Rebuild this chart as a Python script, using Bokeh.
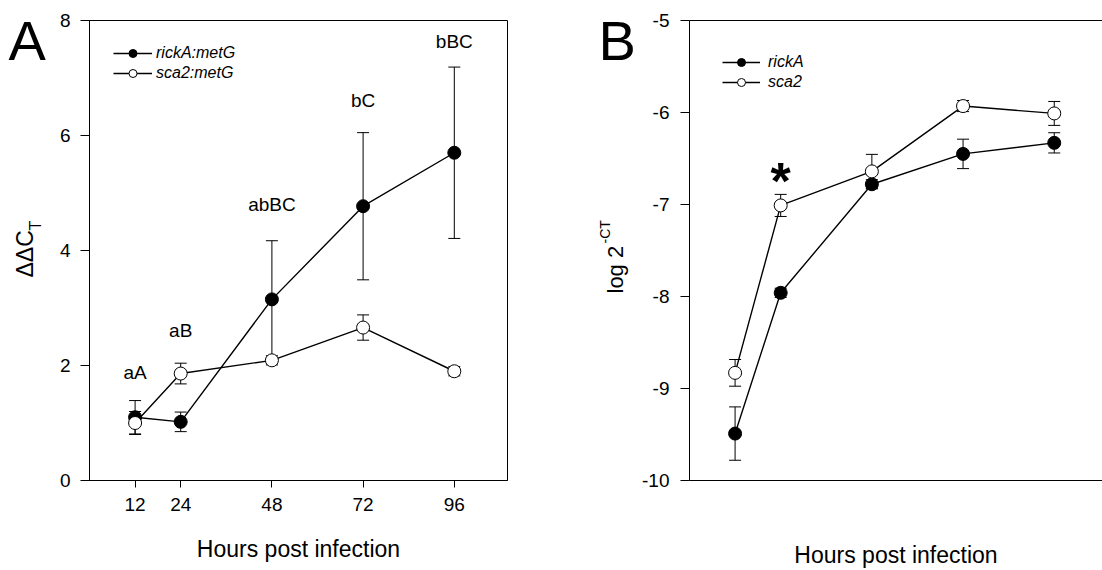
import math
from bokeh.plotting import figure
from bokeh.models import (Range1d, FixedTicker, LinearAxis, Legend, LegendItem,
                          Whisker, TeeHead, ColumnDataSource)
from bokeh.layouts import row
from bokeh.embed import file_html
from bokeh.resources import INLINE
from bokeh.core.properties import value

FONT = "Liberation Sans"

# ---------------- data ----------------
hours = [12, 24, 48, 72, 96]

# Panel A  (ΔΔCT)
a_ricka = [1.10, 1.02, 3.15, 4.77, 5.70]
a_ricka_err = [0.29, 0.17, 1.02, 1.28, 1.49]
a_sca2 = [1.00, 1.86, 2.09, 2.66, 1.90]
a_sca2_err = [0.20, 0.18, 0.08, 0.22, 0.08]
a_letters = ["aA", "aB", "abBC", "bC", "bBC"]
a_letter_y = [1.88, 2.61, 4.80, 6.61, 7.63]
a_yticks = [0, 2, 4, 6, 8]

# Panel B  (log 2^-CT)
b_ricka = [-9.49, -7.96, -6.78, -6.45, -6.33]
b_ricka_err = [0.29, 0.05, 0.05, 0.16, 0.11]
b_sca2 = [-8.83, -7.01, -6.64, -5.93, -6.01]
b_sca2_err = [0.145, 0.12, 0.185, 0.06, 0.13]
b_star_x = [24]
b_star_y = [-6.74]
b_yticks = [-10, -9, -8, -7, -6, -5]

H = 570
TOP = 20      # frame top (px)
BOT = 90      # space below frame (px)


def add_series(p, x, y, err, filled):
    src = ColumnDataSource(dict(x=x, y=y,
                                upper=[v + e for v, e in zip(y, err)],
                                lower=[v - e for v, e in zip(y, err)]))
    w = Whisker(source=src, base="x", upper="upper", lower="lower",
                dimension="height", line_color="black", line_width=1,
                upper_head=TeeHead(size=12, line_color="black", line_width=1),
                lower_head=TeeHead(size=12, line_color="black", line_width=1))
    p.add_layout(w)
    lr = p.line("x", "y", source=src, line_color="black", line_width=1.4)
    sr = p.scatter("x", "y", source=src, size=13, marker="circle",
                   fill_color="black" if filled else "white",
                   line_color="black", line_width=1)
    return lr, sr


def style_axis(ax, tick_out, standoff):
    ax.axis_line_color = "black"
    ax.axis_line_width = 1
    ax.major_tick_line_color = "black"
    ax.major_tick_in = 0
    ax.major_tick_out = tick_out
    ax.minor_tick_line_color = None
    ax.major_label_text_font = FONT
    ax.major_label_text_font_size = "19px"
    ax.major_label_text_color = "black"
    ax.major_label_standoff = standoff


def style_xlabel(ax, standoff):
    ax.axis_label = "Hours post infection"
    ax.axis_label_text_font = FONT
    ax.axis_label_text_font_size = "23px"
    ax.axis_label_text_font_style = "normal"
    ax.axis_label_text_color = "black"
    ax.axis_label_standoff = standoff


def make_legend(p, items, loc, glyph_w, standoff):
    leg = Legend(items=items, location=loc, padding=0, margin=0, spacing=0,
                 glyph_width=glyph_w, glyph_height=20, label_height=20,
                 label_standoff=standoff, label_text_font=FONT,
                 label_text_font_size="16px", label_text_font_style="italic",
                 label_text_color="black",
                 border_line_color=None, background_fill_alpha=0)
    p.add_layout(leg, "center")


def strip(width):
    # label column; its frame spans the same rows as the plot frames,
    # y range set so that a value equals the page's pixel row
    s = figure(width=width, height=H, x_range=Range1d(0, width),
               y_range=Range1d(H - BOT, TOP),
               x_axis_type=None, y_axis_type=None, output_backend="svg",
               toolbar_location=None, min_border_left=0, min_border_right=0,
               min_border_top=TOP, min_border_bottom=BOT)
    s.outline_line_color = None
    return s


def strip_text(s, x, y, text, size, angle=0.0):
    s.text(x=[x], y=[y], text=[text], angle=angle, text_font=value(FONT),
           text_font_size=size, text_align="left", text_baseline="middle",
           text_color="black")


# ---------------- label strip A ----------------
sa = strip(50)
strip_text(sa, 8, 40, "A", "56px")
strip_text(sa, 24.5, 277, "ΔΔC", "23px", angle=math.pi / 2)
strip_text(sa, 34.5, 230, "T", "16px", angle=math.pi / 2)

# ---------------- panel A ----------------
pa = figure(width=502, height=H, x_range=Range1d(0, 110), y_range=Range1d(0, 8),
            output_backend="svg", toolbar_location=None,
            min_border_left=39, min_border_right=45, min_border_top=TOP, min_border_bottom=BOT)
pa.grid.visible = False
pa.outline_line_color = "black"
pa.outline_line_width = 1
pa.xaxis.ticker = FixedTicker(ticks=hours)
pa.yaxis.ticker = FixedTicker(ticks=a_yticks)
style_axis(pa.xaxis[0], 7, 10)
style_axis(pa.yaxis[0], 9, 10)
style_xlabel(pa.xaxis[0], 22)

ra_l, ra_s = add_series(pa, hours, a_ricka, a_ricka_err, True)
sa_l, sa_s = add_series(pa, hours, a_sca2, a_sca2_err, False)

pa.text(x=hours, y=a_letter_y, text=a_letters, text_font=value(FONT),
        text_font_size="19px", text_align="center", text_baseline="middle",
        text_color="black")

make_legend(pa, [LegendItem(label="rickA:metG", renderers=[ra_l, ra_s]),
                 LegendItem(label="sca2:metG", renderers=[sa_l, sa_s])],
            (24, 397), 39, 4)

# ---------------- label strip B ----------------
sb = strip(84)
strip_text(sb, 46, 40, "B", "56px")
strip_text(sb, 63.3, 293, "log 2", "22px", angle=math.pi / 2)
strip_text(sb, 52, 243, "-CT", "14px", angle=math.pi / 2)

# ---------------- panel B ----------------
pb = figure(width=466, height=H, x_range=Range1d(0, 108.7), y_range=Range1d(-10, -5),
            output_backend="svg", toolbar_location=None,
            min_border_left=53, min_border_right=0, min_border_top=TOP, min_border_bottom=BOT)
pb.grid.visible = False
pb.outline_line_color = None
pb.xaxis.ticker = FixedTicker(ticks=[])
style_axis(pb.xaxis[0], 0, 0)
pb.xaxis.major_label_text_font_size = "0px"
style_xlabel(pb.xaxis[0], 61)
pb.yaxis.ticker = FixedTicker(ticks=b_yticks)
pb.yaxis.major_label_overrides = {t: str(t) for t in b_yticks}
style_axis(pb.yaxis[0], 9, 11)
top = LinearAxis(ticker=FixedTicker(ticks=[]))
style_axis(top, 0, 0)
top.major_label_text_font_size = "0px"
pb.add_layout(top, "above")

rb_l, rb_s = add_series(pb, hours, b_ricka, b_ricka_err, True)
sb_l, sb_s = add_series(pb, hours, b_sca2, b_sca2_err, False)

pb.text(x=b_star_x, y=b_star_y, text=["*"], text_font=value(FONT),
        text_font_size="52px", text_font_style="bold", text_align="center",
        text_baseline="middle", text_color="black")

make_legend(pb, [LegendItem(label="rickA", renderers=[rb_l, rb_s]),
                 LegendItem(label="sca2", renderers=[sb_l, sb_s])],
            (33, 388), 38, 8)

layout = row(sa, pa, sb, pb)
open("out.html", "w").write(file_html(layout, INLINE))
